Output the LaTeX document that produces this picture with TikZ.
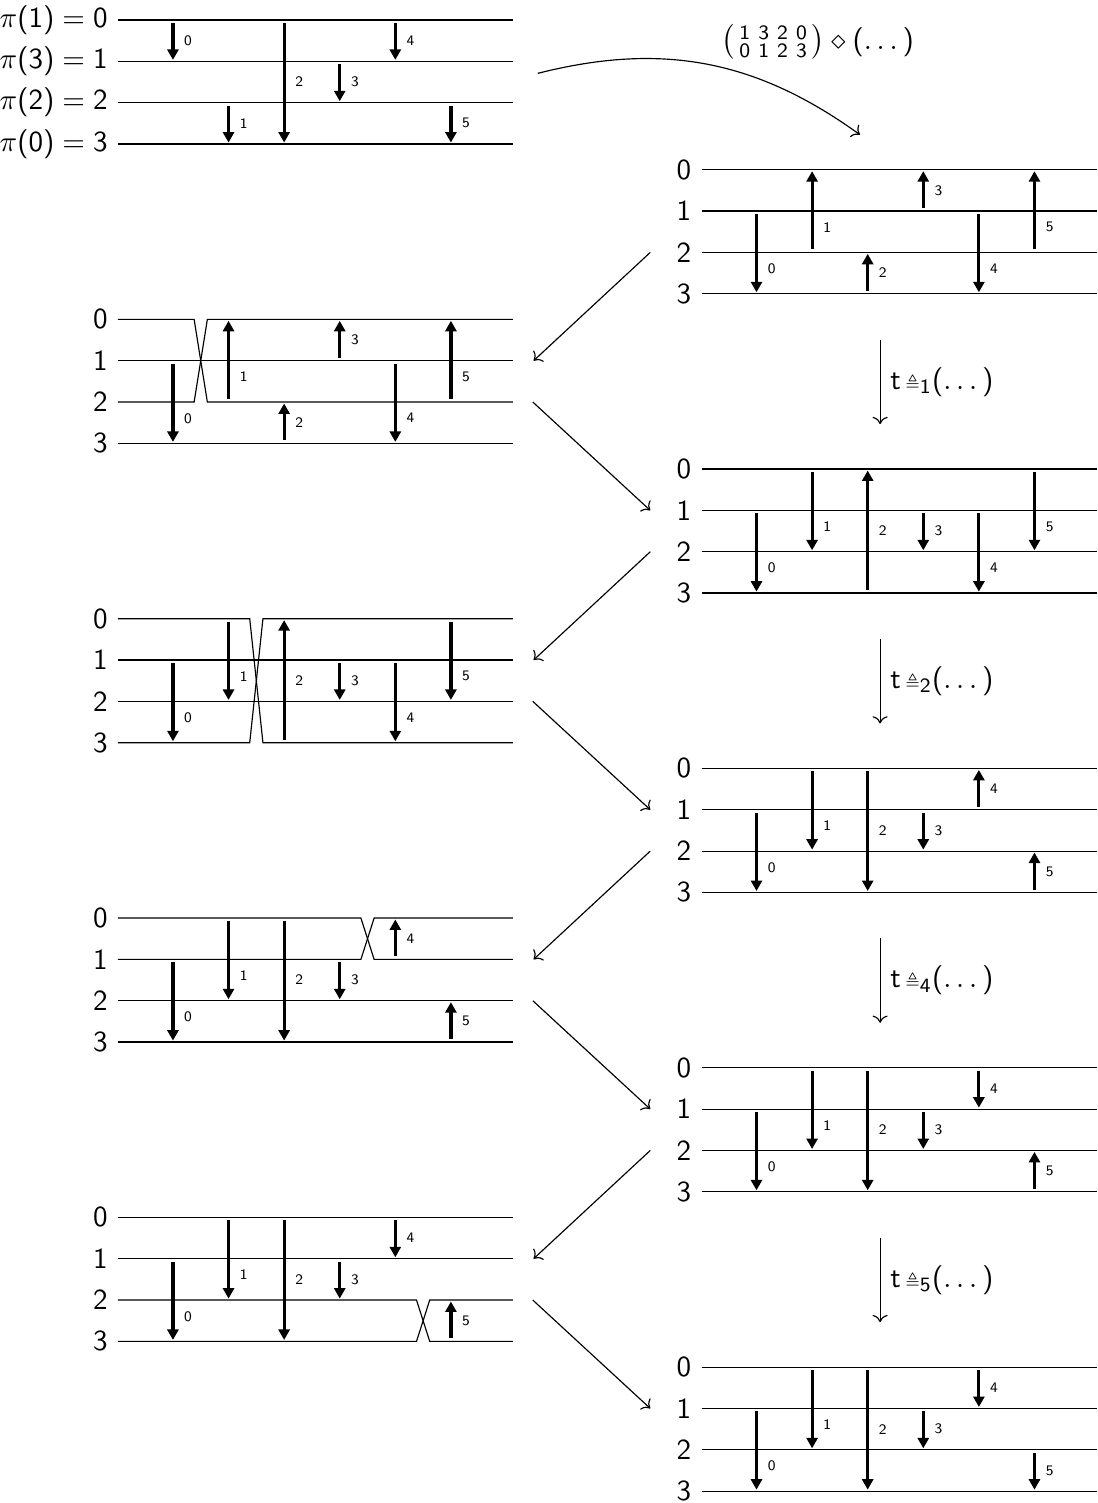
\documentclass[tikz,border=0pt]{standalone}
\usepackage{amsmath,amssymb}
\usepackage{tikz}
\usetikzlibrary{arrows.meta, positioning}
\renewcommand{\familydefault}{\sfdefault}
\DeclareSymbolFont{operators}{OT1}{cmss}{m}{n}
\SetSymbolFont{operators}{bold}{OT1}{cmss}{bx}{n}
\newcommand{\cx}{0.665}
\newcommand{\cw}{0.6725}
\newcommand{\wl}{4.778}
\newcommand{\tstep}[1]{t\,${\scriptscriptstyle\triangleq}_{#1}(\dots)$}
% one ladder: name, origin, crossing column, wire map, arrows i/from/to, wire labels
\newcommand{\ladder}[6]{%
  \begin{scope}[shift={#2}]
    \foreach \lab [count=\j from 0] in {#6}{
      \node[wlbl] (#1-n\j) at (0,-0.5*\j) {\lab};
      \coordinate (#1-s\j) at (0,-0.5*\j);
      \coordinate (#1-e\j) at (\wl,-0.5*\j);
    }
    \foreach \j/\k in {#4}{
      \draw[wire] (#1-s\j) -- ({\cx+\cw*#3-0.08},-0.5*\j)
        -- ({\cx+\cw*#3+0.08},-0.5*\k) -- (#1-e\k);
    }
    \foreach \i/\a/\b [evaluate=\a as \sp using {int(abs(\a-\b))}] in {#5}{
      \draw[trans] ({\cx+\cw*\i},-0.5*\a)
        -- node[tlbl\sp] (#1-t\i) {\i} ({\cx+\cw*\i},-0.5*\b);
    }
  \end{scope}}

\begin{document}
\begin{tikzpicture}[
  wire/.style={thin},
  trans/.style={-{Triangle[length=3.6pt, width=3.8pt]}, line width=1.1pt,
                shorten <=1pt, shorten >=0.5pt},
  tlbl/.style={midway, font=\tiny},
  tlbl1/.style={tlbl, right},
  tlbl2/.style={tlbl, below right},
  tlbl3/.style={tlbl, right},
  wlbl/.style={anchor=east},
  flow/.style={->}
]
\useasboundingbox (0,0) rectangle (13.270,-18.181);

% Left column
\ladder{TL}{(1.427,-0.242)}{0.5}{0/0,1/1,2/2,3/3}
  {0/0/1, 1/2/3, 2/0/3, 3/1/2, 4/0/1, 5/2/3}
  {$\pi(1) = 0$, $\pi(3) = 1$, $\pi(2) = 2$, $\pi(0) = 3$}
\ladder{L2}{(1.427,-3.863)}{0.5}{0/2,1/1,2/0,3/3}
  {0/1/3, 1/2/0, 2/3/2, 3/1/0, 4/1/3, 5/2/0}{0,1,2,3}
\ladder{L3}{(1.427,-7.484)}{1.5}{0/3,1/1,2/2,3/0}
  {0/1/3, 1/0/2, 2/3/0, 3/1/2, 4/1/3, 5/0/2}{0,1,2,3}
\ladder{L4}{(1.427,-11.105)}{3.5}{0/1,1/0,2/2,3/3}
  {0/1/3, 1/0/2, 2/0/3, 3/1/2, 4/1/0, 5/3/2}{0,1,2,3}
\ladder{L5}{(1.427,-14.726)}{4.5}{0/0,1/1,2/3,3/2}
  {0/1/3, 1/0/2, 2/0/3, 3/1/2, 4/0/1, 5/3/2}{0,1,2,3}

% Right column
\ladder{R1}{(8.486,-2.053)}{0.5}{0/0,1/1,2/2,3/3}
  {0/1/3, 1/2/0, 2/3/2, 3/1/0, 4/1/3, 5/2/0}{0,1,2,3}
\ladder{R2}{(8.486,-5.674)}{0.5}{0/0,1/1,2/2,3/3}
  {0/1/3, 1/0/2, 2/3/0, 3/1/2, 4/1/3, 5/0/2}{0,1,2,3}
\ladder{R3}{(8.486,-9.295)}{0.5}{0/0,1/1,2/2,3/3}
  {0/1/3, 1/0/2, 2/0/3, 3/1/2, 4/1/0, 5/3/2}{0,1,2,3}
\ladder{R4}{(8.486,-12.916)}{0.5}{0/0,1/1,2/2,3/3}
  {0/1/3, 1/0/2, 2/0/3, 3/1/2, 4/0/1, 5/3/2}{0,1,2,3}
\ladder{R5}{(8.486,-16.537)}{0.5}{0/0,1/1,2/2,3/3}
  {0/1/3, 1/0/2, 2/0/3, 3/1/2, 4/0/1, 5/2/3}{0,1,2,3}

% Relabelling step
\coordinate (permA) at ([xshift=0.30cm, yshift=-0.145cm]TL-e1);
\coordinate (permB) at ([xshift=1.917cm, yshift=0.423cm]R1-s0);
\draw[flow] (permA) to[bend left=25] (permB);
\node (perm) at (9.89,-0.508)
  {$\bigl(\begin{smallmatrix}1&3&2&0\\0&1&2&3\end{smallmatrix}\bigr) \diamond (\dots)$};

% Zig-zag between columns
\foreach \r/\l/\n in {R1/L2/R2, R2/L3/R3, R3/L4/R4, R4/L5/R5}{
  \draw[flow] ([xshift=-0.62cm]\r-s2) -- ([xshift=0.25cm]\l-e1);
  \draw[flow] ([xshift=0.24cm]\l-e2) -- ([xshift=-0.62cm]\n-s1);
}

% Transposition steps on the right
\foreach \a/\b/\k in {R1/R2/1, R2/R3/2, R3/R4/4, R4/R5/5}{
  \draw[flow] ([xshift=2.16cm, yshift=-0.556cm]\a-s3)
    -- node[right] (step\k) {\tstep{\k}}
    ([xshift=2.16cm, yshift=0.544cm]\b-s0);
}

\end{tikzpicture}
\end{document}
